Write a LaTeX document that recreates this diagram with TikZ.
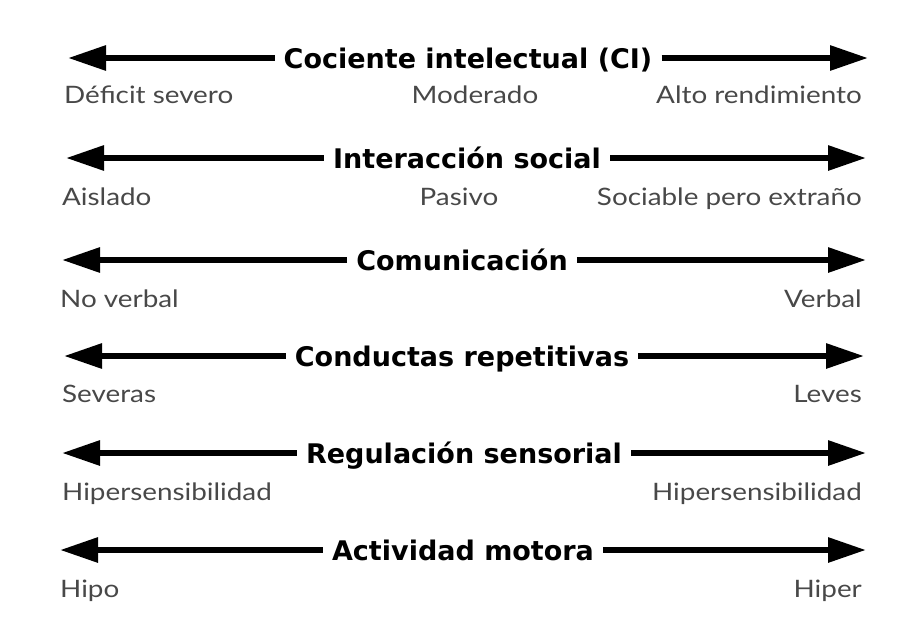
\documentclass[tikz,border=0pt]{standalone}
\usepackage{fontspec}
\setmainfont{Lato}
\newfontfamily\labfont[FakeStretch=1.16]{Lato}
\newfontfamily\titfont{DejaVu Sans}
\usetikzlibrary{arrows.meta}
\definecolor{labgrey}{RGB}{72,72,72}
\tikzset{
  title/.style={font=\titfont\fontsize{27}{30}\selectfont\bfseries, text=black, inner xsep=9pt, inner ysep=0pt, anchor=base},
  lab/.style={font=\labfont\fontsize{24}{28}\selectfont, text=labgrey, inner sep=0pt},
  bar/.style={line width=6pt, -{Triangle[length=38pt,width=24pt]}}
}
\begin{document}
\begin{tikzpicture}[x=1pt,y=-1pt]
\useasboundingbox (0,0) rectangle (908,619);
% Row 1
\node[title] (t1) at (468,68) {Cociente intelectual (CI)};
\coordinate (l1) at (68,58); \coordinate (r1) at (868,58);
\draw[bar] (t1.west |- l1) -- (l1);
\draw[bar] (t1.east |- r1) -- (r1);
\node[lab, anchor=base west] (a1) at (64,103) {Déficit severo};
\node[lab, anchor=base] (b1) at (475,103) {Moderado};
\node[lab, anchor=base east] (c1) at (862,103) {Alto rendimiento};
% Row 2
\node[title] (t2) at (467,168) {Interacción social};
\coordinate (l2) at (66,158); \coordinate (r2) at (866,158);
\draw[bar] (t2.west |- l2) -- (l2);
\draw[bar] (t2.east |- r2) -- (r2);
\node[lab, anchor=base west] (a2) at (62,205) {Aislado};
\node[lab, anchor=base] (b2) at (459,205) {Pasivo};
\node[lab, anchor=base east] (c2) at (862,205) {Sociable pero extraño};
% Row 3
\node[title] (t3) at (462,270) {Comunicación};
\coordinate (l3) at (62,260); \coordinate (r3) at (866,260);
\draw[bar] (t3.west |- l3) -- (l3);
\draw[bar] (t3.east |- r3) -- (r3);
\node[lab, anchor=base west] (a3) at (60,307) {No verbal};
\node[lab, anchor=base east] (c3) at (862,307) {Verbal};
% Row 4
\node[title] (t4) at (462,366) {Conductas repetitivas};
\coordinate (l4) at (64,356); \coordinate (r4) at (864,356);
\draw[bar] (t4.west |- l4) -- (l4);
\draw[bar] (t4.east |- r4) -- (r4);
\node[lab, anchor=base west] (a4) at (62,402) {Severas};
\node[lab, anchor=base east] (c4) at (862,402) {Leves};
% Row 5
\node[title] (t5) at (464,463) {Regulación sensorial};
\coordinate (l5) at (62,453); \coordinate (r5) at (866,453);
\draw[bar] (t5.west |- l5) -- (l5);
\draw[bar] (t5.east |- r5) -- (r5);
\node[lab, anchor=base west] (a5) at (62,500) {Hipersensibilidad};
\node[lab, anchor=base east] (c5) at (862,500) {Hipersensibilidad};
% Row 6
\node[title] (t6) at (463,560) {Actividad motora};
\coordinate (l6) at (60,550); \coordinate (r6) at (866,550);
\draw[bar] (t6.west |- l6) -- (l6);
\draw[bar] (t6.east |- r6) -- (r6);
\node[lab, anchor=base west] (a6) at (60,597) {Hipo};
\node[lab, anchor=base east] (c6) at (862,597) {Hiper};
\end{tikzpicture}
\end{document}
